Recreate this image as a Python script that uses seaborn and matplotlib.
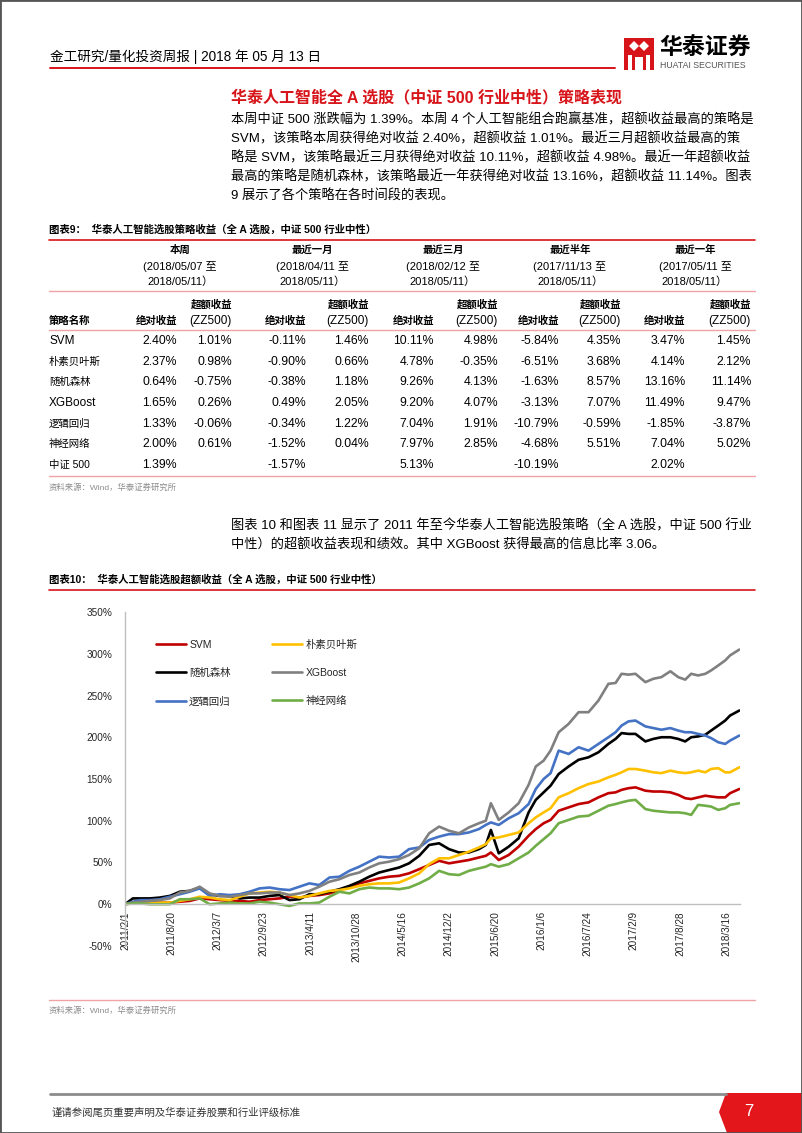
import numpy as np
import pandas as pd
import matplotlib
matplotlib.use('Agg')
import matplotlib.pyplot as plt
import matplotlib.patches as mpatches
from matplotlib.lines import Line2D
from matplotlib.ticker import FuncFormatter
import seaborn as sns

# %% 数据：图表10 超额收益曲线（从图上读取，单位 %）
dates = ['2011-02-01', '2011-03-07', '2011-04-07', '2011-05-20', '2011-07-02', '2011-08-14',
         '2011-09-26', '2011-11-08', '2011-12-21', '2012-02-02', '2012-03-16', '2012-04-29',
         '2012-06-11', '2012-07-24', '2012-09-05', '2012-10-18', '2012-11-30', '2013-01-12',
         '2013-02-24', '2013-04-08', '2013-05-21', '2013-07-04', '2013-08-16', '2013-09-28',
         '2013-11-10', '2013-12-23', '2014-02-04', '2014-03-19', '2014-05-01', '2014-06-13',
         '2014-07-27', '2014-09-08', '2014-10-21', '2014-12-03', '2015-01-15', '2015-02-27',
         '2015-04-11', '2015-05-11', '2015-06-02', '2015-07-06', '2015-08-18', '2015-09-30',
         '2015-11-12', '2015-12-13', '2016-01-16', '2016-02-15', '2016-03-21', '2016-05-03',
         '2016-06-15', '2016-07-28', '2016-09-09', '2016-10-22', '2016-11-22', '2016-12-18',
         '2017-01-17', '2017-02-16', '2017-03-31', '2017-05-04', '2017-06-08', '2017-07-17',
         '2017-08-20', '2017-09-19', '2017-10-15', '2017-11-14', '2017-12-15', '2018-01-09',
         '2018-02-09', '2018-03-11', '2018-04-01', '2018-05-11']

svm = [0, 2, 3, 2, 2, 2, 3, 4, 7, 6, 5, 4, 4, 3, 5, 6, 7, 9, 8, 10,
       11, 13, 17, 21, 25, 28, 31, 33, 34, 37, 42, 47, 52, 49, 51, 53, 56, 58, 62, 53,
       59, 69, 82, 90, 97, 101, 112, 116, 120, 122, 128, 133, 134, 137, 139, 140, 136, 135, 135, 134,
       131, 127, 126, 128, 130, 129, 128, 128, 133, 138]
bayes = [0, 1, 1, 1, 2, 2, 4, 6, 9, 8, 6, 5, 9, 13, 14, 15, 14, 11, 8, 10,
         13, 16, 17, 19, 22, 24, 25, 25, 26, 31, 37, 48, 55, 55, 59, 63, 68, 72, 79, 80,
         83, 86, 97, 104, 110, 115, 128, 133, 139, 144, 147, 152, 155, 158, 162, 162, 160, 158, 157, 160,
         158, 157, 158, 160, 158, 162, 163, 158, 158, 164]
forest = [0, 7, 7, 7, 8, 10, 15, 16, 20, 12, 10, 10, 7, 8, 8, 10, 11, 5, 6, 12,
          12, 15, 18, 22, 27, 33, 38, 41, 44, 49, 58, 71, 73, 66, 62, 62, 66, 71, 89, 61,
          69, 79, 110, 125, 134, 142, 156, 165, 173, 176, 182, 192, 198, 205, 204, 204, 195, 198, 200, 200,
          198, 195, 200, 201, 203, 208, 214, 220, 226, 232]
xgb = [0, 2, 3, 4, 5, 7, 14, 16, 21, 13, 10, 9, 11, 13, 13, 14, 14, 11, 13, 16,
       21, 27, 30, 35, 38, 44, 49, 51, 54, 59, 67, 85, 93, 88, 85, 92, 97, 100, 121, 101,
       110, 121, 143, 165, 172, 184, 206, 216, 230, 230, 244, 264, 265, 276, 275, 276, 266, 270, 272, 279,
       272, 269, 276, 274, 276, 280, 286, 292, 298, 305]
logit = [0, 3, 5, 5, 6, 9, 12, 15, 19, 10, 12, 11, 12, 15, 19, 20, 18, 17, 21, 25,
         23, 32, 33, 40, 45, 51, 57, 56, 57, 66, 68, 77, 81, 84, 84, 86, 90, 95, 98, 95,
         103, 109, 120, 138, 150, 157, 184, 180, 188, 184, 192, 200, 206, 214, 219, 220, 213, 211, 209, 211,
         208, 206, 206, 204, 202, 199, 194, 192, 196, 202]
nnet = [0, 1, 1, 0, 0, 0, 6, 6, 7, 0, 1, 2, 1, 1, 3, 2, 0, -2, 1, 1,
        2, 9, 15, 13, 18, 20, 19, 19, 18, 20, 25, 31, 40, 36, 35, 40, 43, 45, 48, 45,
        48, 55, 62, 70, 78, 85, 97, 101, 105, 106, 112, 118, 120, 122, 124, 125, 114, 112, 111, 110,
        110, 109, 107, 119, 118, 117, 113, 115, 119, 121]

tick_labels = ['2011/2/1', '2011/8/20', '2012/3/7', '2012/9/23', '2013/4/11', '2013/10/28', '2014/5/16',
               '2014/12/2', '2015/6/20', '2016/1/6', '2016/7/24', '2017/2/9', '2017/8/28', '2018/3/16']

# %% 数据：图表9 策略收益表
strategies = ['SVM', '朴素贝叶斯', '随机森林', 'XGBoost', '逻辑回归', '神经网络', '中证 500']
periods = ['本周', '最近一月', '最近三月', '最近半年', '最近一年']
period_start = ['(2018/05/07 至', '(2018/04/11 至', '(2018/02/12 至', '(2017/11/13 至', '(2017/05/11 至']
period_end = ['2018/05/11）'] * 5
week_abs = ['2.40%', '2.37%', '0.64%', '1.65%', '1.33%', '2.00%', '1.39%']
week_ex = ['1.01%', '0.98%', '-0.75%', '0.26%', '-0.06%', '0.61%', '']
month_abs = ['-0.11%', '-0.90%', '-0.38%', '0.49%', '-0.34%', '-1.52%', '-1.57%']
month_ex = ['1.46%', '0.66%', '1.18%', '2.05%', '1.22%', '0.04%', '']
q_abs = ['10.11%', '4.78%', '9.26%', '9.20%', '7.04%', '7.97%', '5.13%']
q_ex = ['4.98%', '-0.35%', '4.13%', '4.07%', '1.91%', '2.85%', '']
half_abs = ['-5.84%', '-6.51%', '-1.63%', '-3.13%', '-10.79%', '-4.68%', '-10.19%']
half_ex = ['4.35%', '3.68%', '8.57%', '7.07%', '-0.59%', '5.51%', '']
year_abs = ['3.47%', '4.14%', '13.16%', '11.49%', '-1.85%', '7.04%', '2.02%']
year_ex = ['1.45%', '2.12%', '11.14%', '9.47%', '-3.87%', '5.02%', '']

# %% 页面
W, H = 802, 1133
RED = '#D7141A'
PINK = '#EFA3A5'
sns.set_theme(style='white')
plt.rcParams['font.family'] = ['Liberation Sans', 'Noto Sans CJK SC']
plt.rcParams['axes.unicode_minus'] = False

fig = plt.figure(figsize=(W / 100, H / 100), dpi=100)


def txt(x, y, s, **kw):
    kw.setdefault('va', 'center')
    kw.setdefault('color', 'black')
    fig.text(x / W, 1 - y / H, s, **kw)


def hline(x0, x1, y, color, lw):
    fig.add_artist(Line2D([x0 / W, x1 / W], [1 - y / H, 1 - y / H],
                          transform=fig.transFigure, color=color, lw=lw))


def poly(pts, **kw):
    fig.add_artist(mpatches.Polygon([(px / W, 1 - py / H) for px, py in pts],
                                    closed=True, transform=fig.transFigure, **kw))


# 页眉
txt(50, 57, '金工研究/量化投资周报 | 2018 年 05 月 13 日', fontsize=9.8)
hline(50, 615, 68, RED, 1.4)
poly([(624, 38), (654, 38), (654, 70), (624, 70)], color=RED, lw=0)
poly([(629, 46), (634, 41), (639, 46), (634, 51)], color='white', lw=0)
poly([(639, 46), (644, 41), (649, 46), (644, 51)], color='white', lw=0)
poly([(628, 55), (632, 55), (632, 70), (628, 70)], color='white', lw=0)
poly([(646, 55), (650, 55), (650, 70), (646, 70)], color='white', lw=0)
poly([(635, 57), (643, 57), (643, 70), (635, 70)], color='white', lw=0)
txt(659, 48, '华泰证券', fontsize=16.5, fontweight='bold')
txt(660, 66, 'HUATAI SECURITIES', fontsize=6.3, color='#555555')

# 正文一
txt(231, 97, '华泰人工智能全 A 选股（中证 500 行业中性）策略表现', fontsize=11.5,
    fontweight='bold', color=RED)
para1 = ['本周中证 500 涨跌幅为 1.39%。本周 4 个人工智能组合跑赢基准，超额收益最高的策略是',
         'SVM，该策略本周获得绝对收益 2.40%，超额收益 1.01%。最近三月超额收益最高的策',
         '略是 SVM，该策略最近三月获得绝对收益 10.11%，超额收益 4.98%。最近一年超额收益',
         '最高的策略是随机森林，该策略最近一年获得绝对收益 13.16%，超额收益 11.14%。图表',
         '9 展示了各个策略在各时间段的表现。']
for i, line in enumerate(para1):
    txt(231, 120 + 19 * i, line, fontsize=9.5)

# 图表9
txt(49, 230, '图表9：  华泰人工智能选股策略收益（全 A 选股，中证 500 行业中性）', fontsize=7.5,
    fontweight='bold')
hline(49, 755, 240, RED, 1.2)
centers = [180, 312, 443, 570, 695]
abs_right = [177, 306, 434, 559, 685]
ex_right = [232, 369, 498, 621, 751]
for c, p, s0, s1 in zip(centers, periods, period_start, period_end):
    txt(c, 250, p, fontsize=7.5, ha='center', fontweight='bold')
    txt(c, 266, s0, fontsize=8, ha='center')
    txt(c, 282, s1, fontsize=8, ha='center')
hline(49, 755, 291, PINK, 1.0)
txt(49, 321, '策略名称', fontsize=7.5, fontweight='bold')
for ar, er in zip(abs_right, ex_right):
    txt(er, 305, '超额收益', fontsize=7.5, ha='right', fontweight='bold')
    txt(er, 321, '(ZZ500)', fontsize=8.5, ha='right')
    txt(ar, 321, '绝对收益', fontsize=7.5, ha='right', fontweight='bold')
hline(49, 755, 330, PINK, 1.0)
cols = [week_abs, week_ex, month_abs, month_ex, q_abs, q_ex, half_abs, half_ex, year_abs, year_ex]
rights = [v for pair in zip(abs_right, ex_right) for v in pair]
for i, name in enumerate(strategies):
    y = 341 + 20.7 * i
    txt(49, y, name, fontsize=8.5 if name.isascii() else 7.5)
    for col, r in zip(cols, rights):
        if col[i]:
            txt(r, y, col[i], fontsize=8.8, ha='right')
hline(49, 755, 476, PINK, 1.0)
txt(49, 488, '资料来源：Wind，华泰证券研究所', fontsize=6, color='#8C8C8C')

# 正文二
txt(231, 526, '图表 10 和图表 11 显示了 2011 年至今华泰人工智能选股策略（全 A 选股，中证 500 行业',
    fontsize=9.5)
txt(231, 545, '中性）的超额收益表现和绩效。其中 XGBoost 获得最高的信息比率 3.06。', fontsize=9.5)

# 图表10
txt(49, 580, '图表10：  华泰人工智能选股超额收益（全 A 选股，中证 500 行业中性）', fontsize=7.5,
    fontweight='bold')
hline(49, 755, 590, RED, 1.2)

names = ['SVM', '随机森林', '逻辑回归', '朴素贝叶斯', 'XGBoost', '神经网络']
series = [svm, forest, logit, bayes, xgb, nnet]
colors = {'SVM': '#C00000', '朴素贝叶斯': '#FFC000', '随机森林': '#000000',
          'XGBoost': '#808080', '逻辑回归': '#4472C4', '神经网络': '#70AD47'}
df = pd.concat([pd.DataFrame({'date': pd.to_datetime(dates), 'value': v, 'strategy': n})
                for n, v in zip(names, series)], ignore_index=True)

ax = fig.add_axes([125 / W, 1 - 946 / H, 615 / W, 334 / H])
sns.lineplot(data=df, x='date', y='value', hue='strategy', hue_order=names,
             palette=colors, linewidth=1.9, ax=ax)
ax.set_ylim(-50, 350)
ax.set_yticks(range(-50, 351, 50))
ax.yaxis.set_major_formatter(FuncFormatter(lambda v, p: f'{v:.0f}%'))
ax.set_xlim(pd.Timestamp('2011-02-01'), pd.Timestamp('2018-05-14'))
ax.set_xticks(pd.to_datetime(tick_labels))
ax.set_xticklabels(tick_labels)
ax.spines['bottom'].set_position(('data', 0))
for s in ['top', 'right']:
    ax.spines[s].set_visible(False)
for s in ['left', 'bottom']:
    ax.spines[s].set_color('#BFBFBF')
    ax.spines[s].set_linewidth(1.0)
ax.tick_params(axis='y', length=0, pad=9, labelsize=7.2, colors='#262626')
ax.tick_params(axis='x', length=0, pad=5, labelsize=7.2, colors='#262626', labelrotation=90)
ax.set_xlabel('')
ax.set_ylabel('')
sns.move_legend(ax, 'upper left', bbox_to_anchor=(0.05, 0.918), ncol=2, frameon=False,
                title=None, fontsize=7.5, handlelength=2.9, handletextpad=0.3,
                columnspacing=4.0, labelspacing=1.75, borderpad=0, borderaxespad=0)

hline(49, 755, 1000, PINK, 1.0)
txt(49, 1011, '资料来源：Wind，华泰证券研究所', fontsize=6, color='#8C8C8C')

# 页脚
hline(50, 726, 1094, '#8C8C8C', 2.0)
poly([(726, 1093), (802, 1093), (802, 1133), (727, 1133), (719, 1112)], color='#E3161B', lw=0)
txt(52, 1113, '谨请参阅尾页重要声明及华泰证券股票和行业评级标准', fontsize=7.5, color='#333333')
txt(749, 1111, '7', fontsize=12, color='white', ha='center')

fig.add_artist(mpatches.Rectangle((0, 0), 1, 1, transform=fig.transFigure, fill=False,
                                  edgecolor='#555555', lw=2))

fig.savefig('out.png', dpi=100)
